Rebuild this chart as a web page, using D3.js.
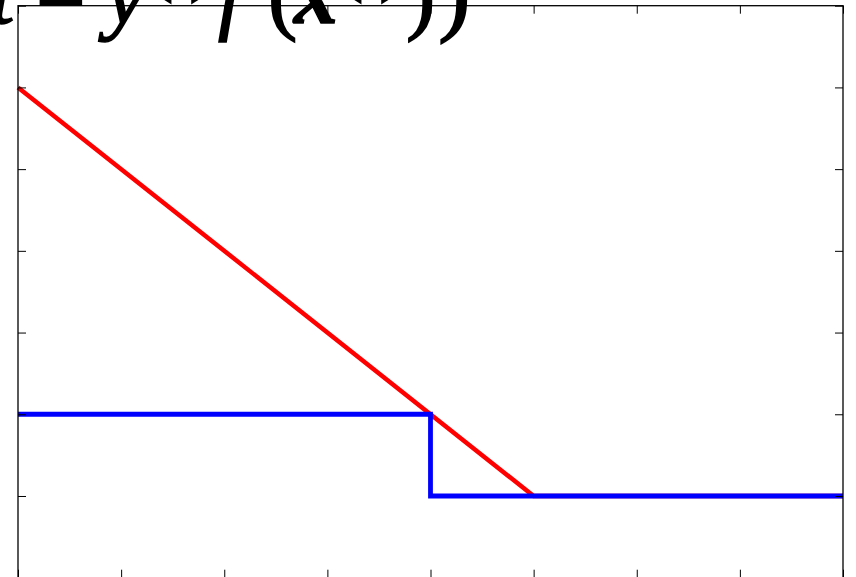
<!DOCTYPE html>
<html>
<head>
<meta charset="utf-8">
<script src="https://cdn.jsdelivr.net/npm/d3@7"></script>
<style>
  html, body { margin: 0; padding: 0; background: #fff; }
  svg { display: block; }
</style>
</head>
<body>
<svg id="chart" width="856" height="577"></svg>
<script>
// Margin t = y f(x): hinge loss vs. zero-one loss
const hingeT = [-4, 1, 4];
const hingeLoss = [5, 0, 0];
const zeroOneT = [-4, 0, 0, 4];
const zeroOneLoss = [1, 1, 0, 0];
const xTicks = [-4, -3, -2, -1, 0, 1, 2, 3, 4];
const yTicks = [-1, 0, 1, 2, 3, 4, 5, 6];

const svg = d3.select("#chart");
const plotLeft = 18, plotRight = 843, plotTop = 5.7, plotBottom = 577.7;

const x = d3.scaleLinear().domain([-4, 4]).range([plotLeft, plotRight]);
const y = d3.scaleLinear().domain([-1, 6]).range([plotBottom, plotTop]);

const line = d3.line().x(d => x(d[0])).y(d => y(d[1]));

svg.append("path")
  .datum(d3.zip(hingeT, hingeLoss))
  .attr("d", line)
  .attr("fill", "none")
  .attr("stroke", "#ff0000")
  .attr("stroke-width", 4.5);

svg.append("path")
  .datum(d3.zip(zeroOneT, zeroOneLoss))
  .attr("d", line)
  .attr("fill", "none")
  .attr("stroke", "#0000ff")
  .attr("stroke-width", 4.8);

// inward ticks on all four sides, no labels
function styleAxis(g) {
  g.select(".domain").remove();
  g.selectAll(".tick text").remove();
  g.selectAll(".tick line").attr("stroke", "#000").attr("stroke-width", 1);
}
svg.append("g").attr("transform", `translate(0,${plotBottom})`)
  .call(d3.axisBottom(x).tickValues(xTicks).tickSize(-8).tickFormat("")).call(styleAxis);
svg.append("g").attr("transform", `translate(0,${plotTop})`)
  .call(d3.axisTop(x).tickValues(xTicks).tickSize(-8).tickFormat("")).call(styleAxis);
svg.append("g").attr("transform", `translate(${plotLeft},0)`)
  .call(d3.axisLeft(y).tickValues(yTicks).tickSize(-8).tickFormat("")).call(styleAxis);
svg.append("g").attr("transform", `translate(${plotRight},0)`)
  .call(d3.axisRight(y).tickValues(yTicks).tickSize(-8).tickFormat("")).call(styleAxis);

svg.append("rect")
  .attr("x", plotLeft).attr("y", plotTop)
  .attr("width", plotRight - plotLeft).attr("height", plotBottom - plotTop)
  .attr("fill", "none").attr("stroke", "#000").attr("stroke-width", 1.3);

// axis label formula, laid out piece by piece with math spacing
const label = svg.append("text")
  .attr("y", 23)
  .attr("font-family", "Liberation Serif, serif")
  .attr("font-size", 88)
  .attr("fill", "#000")
  .attr("stroke", "#000")
  .attr("stroke-width", 1.6);
const base = 23, sup = -10;
const pieces = [
  {t: "t", x: -10, it: true},
  {t: "=", x: 36},
  {t: "y", x: 106, it: true},
  {t: "(", x: 152, s: true},
  {t: "i", it: true, s: true},
  {t: ")", s: true},
  {t: "f", x: 218, it: true},
  {t: "(", x: 268},
  {t: "x", x: 294, it: true, heavy: true},
  {t: "(", x: 342, s: true},
  {t: "i", it: true, s: true},
  {t: ")", s: true},
  {t: ")", x: 406},
  {t: ")", x: 438, big: true}
];
pieces.forEach(p => {
  const ts = label.append("tspan").text(p.t).attr("y", p.s ? sup : base);
  if (p.x !== undefined) ts.attr("x", p.x);
  if (p.it) ts.attr("font-style", "italic");
  if (p.s) ts.attr("font-size", 62);
  if (p.big) ts.attr("font-size", 98);
  if (p.heavy) ts.attr("font-weight", "bold");
});
</script>
</body>
</html>
